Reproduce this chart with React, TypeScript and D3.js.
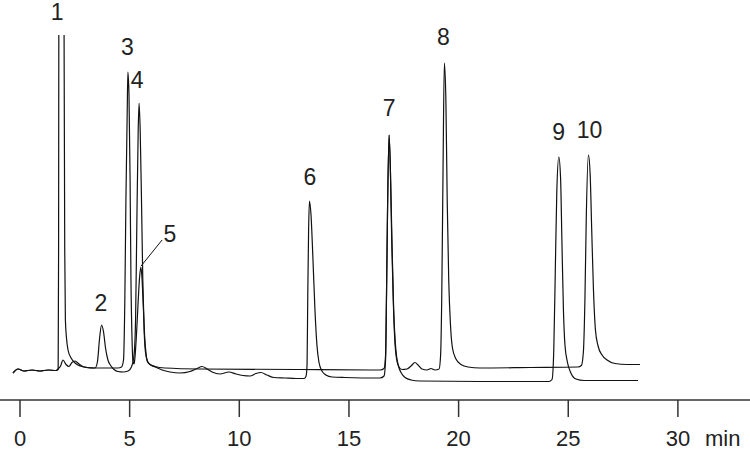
import React from "react";
import * as d3 from "d3";

// retention time (min), detector signal (arbitrary units)
const startBaseline: [number, number][] = [
  [-0.32, 12], [-0.09, 16], [0.18, 14], [0.55, 15], [0.91, 14], [1.28, 15], [1.64, 14.5],
];

const traceA: [number, number][] = [
  ...startBaseline,
  [1.74, 15.5], [1.76, 135], [1.77, 350], [1.89, 685], [2.01, 350], [2.04, 135], [2.07, 65],
  [2.12, 47], [2.19, 35], [2.33, 27], [2.51, 22], [2.74, 19], [3.06, 17.5], [3.42, 17],
  [3.53, 23], [3.63, 47], [3.72, 60], [3.81, 53], [3.9, 37], [4.01, 25], [4.15, 19],
  [4.29, 15.5], [4.47, 13.5], [4.7, 13], [4.93, 14], [5.08, 18], [5.2, 30], [5.27, 65],
  [5.33, 165], [5.39, 255], [5.43, 282], [5.48, 255], [5.54, 185], [5.6, 105], [5.66, 55],
  [5.72, 33], [5.81, 24], [5.93, 20.5], [6.16, 18.5], [6.61, 17], [8.21, 16], [12.77, 15.5],
  [16.42, 15], [16.6, 16.5], [16.67, 30], [16.71, 85], [16.76, 175], [16.83, 250], [16.89, 215],
  [16.95, 145], [17.02, 85], [17.09, 45], [17.18, 25], [17.28, 18], [17.42, 15.5], [17.65, 16],
  [17.83, 19], [18.01, 22.5], [18.15, 20], [18.33, 16], [18.56, 15], [18.74, 16.5], [18.92, 15],
  [19.11, 16], [19.18, 30], [19.23, 85], [19.29, 215], [19.35, 322], [19.42, 285], [19.48, 185],
  [19.55, 105], [19.63, 60], [19.72, 37], [19.88, 26], [20.11, 20.5], [20.43, 18], [20.98, 17],
  [23.26, 17.5], [25.44, 18], [25.6, 19.5], [25.69, 33], [25.76, 85], [25.82, 165], [25.92, 230],
  [26.0, 210], [26.07, 155], [26.15, 95], [26.24, 55], [26.36, 39], [26.54, 30], [26.77, 25],
  [27.13, 21.5], [27.68, 20.5], [28.27, 20.5],
];

const traceB: [number, number][] = [
  ...startBaseline,
  [1.73, 16], [1.85, 19], [1.96, 25], [2.1, 20.5], [2.23, 18.5], [2.37, 22.5], [2.51, 24],
  [2.69, 21], [2.92, 18], [3.28, 17], [3.88, 17], [4.47, 17], [4.63, 18], [4.72, 25],
  [4.78, 85], [4.83, 185], [4.89, 275], [4.92, 313], [4.97, 290], [5.02, 205], [5.06, 105],
  [5.11, 45], [5.15, 24], [5.2, 21], [5.24, 27], [5.31, 50], [5.38, 80], [5.45, 107],
  [5.51, 118], [5.56, 108], [5.62, 80], [5.68, 50], [5.75, 31], [5.81, 23.5], [5.93, 20.5],
  [6.16, 18], [6.48, 15], [6.84, 13], [7.3, 12], [7.75, 13.5], [8.07, 16.5], [8.3, 18.5],
  [8.53, 16], [8.76, 13], [9.12, 11], [9.53, 13], [9.85, 11], [10.17, 9.5], [10.49, 9],
  [10.76, 11.5], [10.99, 12.5], [11.26, 10], [11.58, 7.5], [12.08, 7], [12.59, 6.5],
  [12.95, 6.5], [13.04, 8.5], [13.09, 20], [13.12, 85], [13.16, 155], [13.2, 184], [13.27, 170],
  [13.36, 125], [13.45, 75], [13.54, 40], [13.63, 23], [13.77, 14], [13.95, 10], [14.23, 8],
  [14.82, 7.5], [16.42, 7], [16.6, 9], [16.67, 25], [16.71, 85], [16.76, 175], [16.83, 250],
  [16.89, 215], [16.96, 145], [17.04, 75], [17.14, 35], [17.26, 19], [17.4, 11.5], [17.56, 7.5],
  [17.83, 5], [18.24, 4], [20.98, 3.5], [24.12, 3.5], [24.26, 5.5], [24.34, 35], [24.41, 115],
  [24.48, 195], [24.57, 228], [24.65, 207], [24.71, 145], [24.78, 75], [24.85, 40], [24.96, 23],
  [25.12, 12], [25.35, 6], [25.72, 4.5], [26.9, 4.5], [28.18, 4.5],
];

const xTicks = [0, 5, 10, 15, 20, 25, 30];

const peakLabels = [
  { name: "1", t: 1.69, s: 365 },
  { name: "2", t: 3.69, s: 74 },
  { name: "3", t: 4.9, s: 330 },
  { name: "4", t: 5.34, s: 297 },
  { name: "5", t: 6.84, s: 143 },
  { name: "6", t: 13.22, s: 200 },
  { name: "7", t: 16.83, s: 269 },
  { name: "8", t: 19.31, s: 340 },
  { name: "9", t: 24.56, s: 245 },
  { name: "10", t: 25.97, s: 247 },
];

// leader line for peak 5
const leader5: [number, number][] = [[5.52, 119], [6.48, 145]];

const W = 750;
const H = 451;
const font = "'Liberation Sans', Arial, Helvetica, sans-serif";

export default function App() {
  const x = d3.scaleLinear().domain([0, 30]).range([20, 677.9]);
  const y = d3.scaleLinear().domain([0, 350]).range([385, 35]);
  const axisY = 400;

  const line = d3
    .line<[number, number]>()
    .x((d) => x(d[0]))
    .y((d) => y(d[1]))
    .curve(d3.curveMonotoneX);

  return (
    <svg
      width={W}
      height={H}
      style={{ position: "absolute", left: 0, top: 0, background: "#fff" }}
    >
      <defs>
        <clipPath id="plot">
          <rect x={0} y={y(350)} width={W} height={H} />
        </clipPath>
      </defs>
      <g clipPath="url(#plot)" fill="none" stroke="#111" strokeWidth={1.2} strokeLinejoin="round">
        <path d={line(traceA) || ""} />
        <path d={line(traceB) || ""} />
      </g>
      <line
        x1={x(leader5[0][0])}
        y1={y(leader5[0][1])}
        x2={x(leader5[1][0])}
        y2={y(leader5[1][1])}
        stroke="#111"
        strokeWidth={1}
      />
      <g fontFamily={font} fontSize={23} fill="#222" textAnchor="middle">
        {peakLabels.map((p) => (
          <text key={p.name} x={x(p.t)} y={y(p.s)}>
            {p.name}
          </text>
        ))}
      </g>
      <g stroke="#333" strokeWidth={1.5}>
        <line x1={0} x2={W} y1={axisY} y2={axisY} />
        {xTicks.map((t) => (
          <line key={t} x1={x(t)} x2={x(t)} y1={axisY} y2={axisY + 17} />
        ))}
      </g>
      <g fontFamily={font} fontSize={22} fill="#222">
        {xTicks.map((t) => (
          <text key={t} x={x(t)} y={446} textAnchor="middle">
            {t}
          </text>
        ))}
        <text x={705} y={446}>
          min
        </text>
      </g>
    </svg>
  );
}
